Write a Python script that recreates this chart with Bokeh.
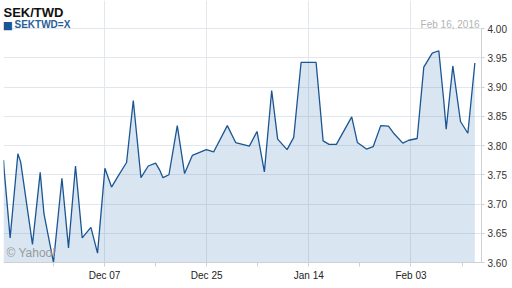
from bokeh.plotting import figure
from bokeh.models import FixedTicker, Label, NumeralTickFormatter, LinearAxis, Range1d
from bokeh.embed import file_html
from bokeh.resources import INLINE

# trading-day index (0 = Dec 07) and SEK/TWD rate
t_days = [-13.85, -13.76, -12.94, -11.88, -11.5, -9.88, -8.82, -8.3, -7.0, -5.84, -4.94,
          -3.98, -3.06, -1.87, -0.96, 0.05, 0.96, 1.88, 3.02, 3.94, 4.99, 5.99, 7.0,
          7.6, 8.01, 8.83, 9.97, 10.97, 12.03, 13.95, 14.95, 16.83, 17.97, 19.85,
          20.9, 21.91, 22.91, 23.73, 25.02, 25.93, 26.94, 29.0, 29.96, 30.78, 31.78,
          33.88, 34.66, 35.9, 36.82, 37.86, 38.92, 39.7, 40.88, 41.7, 42.85, 43.76,
          44.92, 45.82, 46.5, 46.83, 47.74, 48.79, 49.8, 50.76]
rate = [3.775, 3.758, 3.642, 3.786, 3.772, 3.631, 3.754, 3.683, 3.600, 3.744, 3.625,
        3.765, 3.642, 3.660, 3.616, 3.761, 3.729, 3.748, 3.771, 3.877, 3.745, 3.765, 3.770,
        3.757, 3.745, 3.750, 3.834, 3.752, 3.783, 3.793, 3.789, 3.834, 3.805, 3.799,
        3.824, 3.755, 3.894, 3.811, 3.793, 3.814, 3.942, 3.942, 3.808, 3.802, 3.802,
        3.849, 3.805, 3.794, 3.798, 3.834, 3.833, 3.820, 3.804, 3.809, 3.812, 3.934,
        3.958, 3.962, 3.876, 3.828, 3.936, 3.841, 3.821, 3.941]

major_ticks = [0, 14, 28, 42]
major_labels = ["Dec 07", "Dec 25", "Jan 14", "Feb 03"]
minor_ticks = [-7, 7, 21, 35, 49]
y_ticks = [3.60, 3.65, 3.70, 3.75, 3.80, 3.85, 3.90, 3.95, 4.00]

title_text = "SEK/TWD"
series_name = "SEKTWD=X"
date_text = "Feb 16, 2016"

LINE = "#1b5592"
GRID = "#e2e7ee"
AXIS = "#cdd1d6"
FONT = "Liberation Sans"

x_start, x_end = -13.85, 51.67
y_lo, y_hi = 3.60, 4.00
# frame reaches the top of the page so the header texts are not clipped
p = figure(width=512, height=288, output_backend="svg", toolbar_location=None,
           x_range=Range1d(x_start, x_end), y_range=Range1d(y_lo, 4.0479),
           min_border_left=3, min_border_right=31, min_border_top=0, min_border_bottom=26,
           x_axis_location="below", y_axis_location=None)
p.background_fill_color = "white"
p.border_fill_color = "white"
p.outline_line_color = None

p.varea(x=t_days, y1=[y_lo] * len(t_days), y2=rate, fill_color="#3f82bf", fill_alpha=0.2)
p.line(x=t_days, y=rate, line_color=LINE, line_width=1.3)

# x axis
xa = p.xaxis[0]
xa.ticker = FixedTicker(ticks=major_ticks, minor_ticks=minor_ticks)
xa.major_label_overrides = {t: l for t, l in zip(major_ticks, major_labels)}
xa.axis_line_color = AXIS
xa.major_tick_line_color = AXIS
xa.minor_tick_line_color = AXIS
xa.major_tick_out = 4
xa.major_tick_in = 0
xa.minor_tick_out = 4
xa.minor_tick_in = 0
xa.major_label_text_font = FONT
xa.major_label_text_font_size = "10px"
xa.major_label_text_color = "#222222"
xa.major_label_standoff = 3

# right y axis
ya = LinearAxis(ticker=FixedTicker(ticks=y_ticks, minor_ticks=[]),
                formatter=NumeralTickFormatter(format="0.00"), bounds=(y_lo, y_hi))
ya.axis_line_color = AXIS
ya.major_tick_line_color = AXIS
ya.major_tick_out = 3
ya.major_tick_in = 0
ya.major_label_text_font = FONT
ya.major_label_text_font_size = "10px"
ya.major_label_text_color = "#333333"
ya.major_label_standoff = 3
p.add_layout(ya, "right")

p.xgrid.ticker = FixedTicker(ticks=[x_start] + major_ticks)
p.xgrid.bounds = (y_lo, y_hi)
p.xgrid.grid_line_color = GRID
p.ygrid.ticker = FixedTicker(ticks=y_ticks)
p.ygrid.grid_line_color = GRID

# texts (screen units are relative to the plot frame's bottom-left corner)
p.add_layout(Label(x=0, y=250, x_units="screen", y_units="screen", text=title_text,
                   text_font=FONT, text_font_size="13px", text_font_style="bold",
                   text_color="#111111", text_baseline="alphabetic"))
p.add_layout(Label(x=-1, y=237.5, x_units="screen", y_units="screen", text="\u25a0",
                   text_font="DejaVu Sans", text_font_size="11px",
                   text_color="#1b5592", text_baseline="alphabetic"))
p.add_layout(Label(x=11, y=238, x_units="screen", y_units="screen", text=series_name,
                   text_font=FONT, text_font_size="10px", text_font_style="bold",
                   text_color="#2a5f9a", text_baseline="alphabetic"))
p.add_layout(Label(x=476, y=238.5, x_units="screen", y_units="screen", text=date_text,
                   text_font=FONT, text_font_size="10px", text_align="right",
                   text_color="#b3b3b3", text_baseline="alphabetic"))
p.add_layout(Label(x=3, y=3, x_units="screen", y_units="screen", text="\u00a9 Yahoo!",
                   text_font=FONT, text_font_size="12px",
                   text_color="#999999", text_baseline="bottom"))

open("out.html", "w").write(file_html(p, INLINE))
